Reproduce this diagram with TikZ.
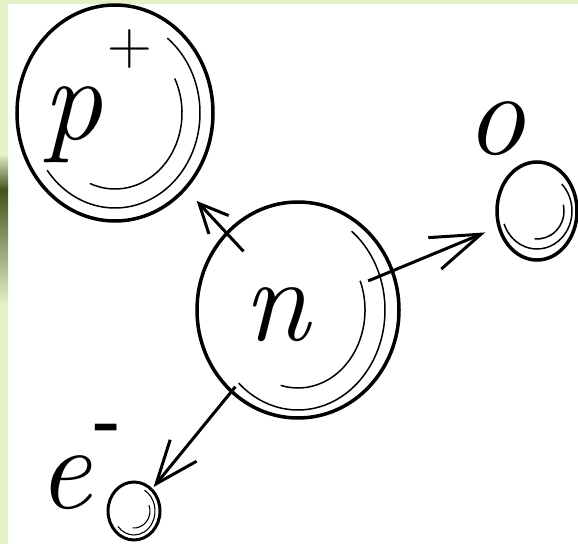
\documentclass[tikz,border=0pt]{standalone}
\usetikzlibrary{shapes.geometric,arrows.meta}
\definecolor{bggreen}{HTML}{E4F0C6}
\definecolor{darkgreen}{HTML}{44521E}
\begin{document}
\begin{tikzpicture}[x=1pt,y=1pt,
  particle/.style={draw, ellipse, line width=3.5pt, inner sep=0pt},
  shine/.style={line width=1.5pt},
  emission/.style={line width=3pt},
  sym/.style={font=\fontsize{120}{120}\selectfont\itshape, inner sep=0pt, anchor=base},
  charge/.style={inner sep=0pt}
]
\useasboundingbox (0,0) rectangle (578,544);
\fill[white] (0,0) rectangle (578,544);
\fill[bggreen] (0,0) rectangle (8,544);
\fill[bggreen] (0,540) rectangle (578,544);
\shade[top color=bggreen, bottom color=darkgreen] (0,354) rectangle (8,390);
\shade[top color=darkgreen, bottom color=bggreen] (0,240) rectangle (8,354);

% particles
\node[particle, minimum width=196pt, minimum height=216pt] (p) at (115,431) {};
\node[particle, minimum width=202pt, minimum height=216pt] (n) at (298,234) {};
\node[particle, minimum width=80pt, minimum height=98pt] (o) at (537,333) {};
\node[particle, line width=3pt, minimum width=52pt, minimum height=58pt] (e) at (134,33) {};

% highlight arcs
\draw[shine] (p.center) ++(52:85pt and 95pt) arc[start angle=52, end angle=-143, x radius=85pt, y radius=95pt];
\draw[shine] (p.center) ++(27:67pt and 76pt) arc[start angle=27, end angle=-112, x radius=67pt, y radius=76pt];
\draw[shine] (n.center) ++(52:87pt and 100pt) arc[start angle=52, end angle=-133, x radius=87pt, y radius=100pt];
\draw[shine] (n.center) ++(22:67pt and 78pt) arc[start angle=22, end angle=-105, x radius=67pt, y radius=78pt];
\draw[shine] (o.center) ++(45:35pt and 38pt) arc[start angle=45, end angle=-160, x radius=35pt, y radius=38pt];
\draw[shine] (o.center) ++(13:27pt and 28pt) arc[start angle=13, end angle=-95, x radius=27pt, y radius=28pt];
\draw[shine, line width=1.1pt] (e.center) ++(60:21pt and 24pt) arc[start angle=60, end angle=-140, x radius=21pt, y radius=24pt];
\draw[shine, line width=1.1pt] (e.center) ++(20:16pt and 17pt) arc[start angle=20, end angle=-95, x radius=16pt, y radius=17pt];

% labels
\node[sym] (psym) at (72,404) {p};
\node[sym] (nsym) at (276,204) {n};
\node[sym] (osym) at (495,389) {o};
\node[sym] (esym) at (64,36) {e};
\node[charge, font=\fontsize{62}{62}\selectfont] (pcharge) at (130,495) {+};
\node[charge, font=\fontsize{72}{72}\selectfont\bfseries] (echarge) at (108,110) {-};

% emissions
\draw[emission, -{Straight Barb[length=29pt,width=27pt]}, shorten <=80pt, shorten >=120pt] (n.center) -- (p.center);
\draw[emission, -{Straight Barb[length=50pt,width=34pt]}, shorten <=76pt, shorten >=56pt] (n.center) -- (o.center);
\draw[emission, -{Straight Barb[length=43pt,width=34pt]}, shorten <=99pt, shorten >=31pt] (n.center) -- (e.center);
\end{tikzpicture}
\end{document}
